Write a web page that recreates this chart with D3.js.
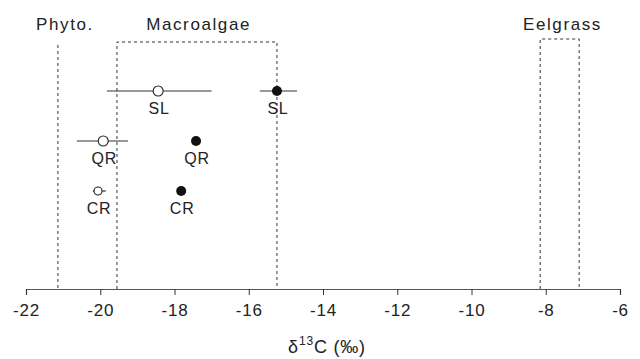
<!DOCTYPE html>
<html>
<head>
<meta charset="utf-8">
<script src="https://cdn.jsdelivr.net/npm/d3@7"></script>
<style>
  body { margin: 0; background: #fff; }
  text { font-family: "Liberation Sans", Arial, sans-serif; fill: #222; }
</style>
</head>
<body>
<div id="chart"></div>
<script>
// sites on the vertical (categorical) axis
const sites = ["SL", "QR", "CR"];

// open circles: mean and range of d13C
const openMean = [-18.44, -19.92, -20.06];
const openLow = [-19.82, -20.63, -20.2];
const openHigh = [-17.0, -19.25, -19.85];

// filled circles
const filledMean = [-15.24, -17.42, -17.82];
const filledLow = [-15.7, null, null];
const filledHigh = [-14.7, null, null];

// source ranges (dashed boxes)
const sourceNames = ["Phyto.", "Macroalgae", "Eelgrass"];
const sourceLow = [-21.14, -19.55, -8.15];
const sourceHigh = [null, -15.24, -7.1];
const sourceLabelX = [-20.95, -17.35, -7.55];

const xTicks = [-22, -20, -18, -16, -14, -12, -10, -8, -6];

const width = 640, height = 359;
const axisY = 289;

const svg = d3.select("#chart").append("svg")
  .attr("width", width)
  .attr("height", height);

const x = d3.scaleLinear().domain([-22, -6]).range([26, 620]);
const y = d3.scalePoint().domain(sites).range([91, 191]);

// axis
const axis = svg.append("g")
  .attr("transform", `translate(0,${axisY})`)
  .call(d3.axisBottom(x).tickValues(xTicks).tickSize(6).tickPadding(9)
    .tickFormat(d => d3.format("d")(d).replace("−", "-")));
axis.select(".domain").attr("stroke", "#555").attr("stroke-width", 1.2);
axis.selectAll(".tick line").attr("stroke", "#333");
axis.selectAll(".tick text").attr("font-size", 17)
  .attr("letter-spacing", 0.8)
  .attr("font-family", "Liberation Sans, Arial, sans-serif").attr("fill", "#222");

// source boxes
const dash = "3,3";
const boxTop = [45, 42, 39];
sourceNames.forEach((name, i) => {
  const g = svg.append("g").attr("fill", "none").attr("stroke", "#333")
    .attr("stroke-width", 1).attr("stroke-dasharray", dash);
  const x1 = x(sourceLow[i]);
  if (sourceHigh[i] === null) {
    g.append("line").attr("x1", x1).attr("x2", x1)
      .attr("y1", boxTop[i]).attr("y2", axisY);
  } else {
    const x2 = x(sourceHigh[i]);
    g.append("path")
      .attr("d", `M${x1},${axisY}V${boxTop[i]}H${x2}V${axisY}`);
  }
  svg.append("text")
    .attr("x", x(sourceLabelX[i]))
    .attr("y", 30)
    .attr("text-anchor", "middle")
    .attr("font-size", 17)
    .attr("letter-spacing", 1.6)
    .text(name);
});

// error bars
sites.forEach((s, i) => {
  svg.append("line")
    .attr("x1", x(openLow[i])).attr("x2", x(openHigh[i]))
    .attr("y1", y(s)).attr("y2", y(s))
    .attr("stroke", "#333").attr("stroke-width", 1.2);
  if (filledLow[i] !== null) {
    svg.append("line")
      .attr("x1", x(filledLow[i])).attr("x2", x(filledHigh[i]))
      .attr("y1", y(s)).attr("y2", y(s))
      .attr("stroke", "#333").attr("stroke-width", 1.2);
  }
});

// points
svg.selectAll("circle.open").data(sites).join("circle")
  .attr("class", "open")
  .attr("cx", (d, i) => x(openMean[i]))
  .attr("cy", d => y(d))
  .attr("r", (d, i) => i === 2 ? 4 : 5)
  .attr("fill", "#fff").attr("stroke", "#222").attr("stroke-width", 1.1);

svg.selectAll("circle.filled").data(sites).join("circle")
  .attr("class", "filled")
  .attr("cx", (d, i) => x(filledMean[i]))
  .attr("cy", d => y(d))
  .attr("r", 5)
  .attr("fill", "#111");

// site labels under the points
sites.forEach((s, i) => {
  [openMean[i], filledMean[i]].forEach(v => {
    svg.append("text")
      .attr("x", x(v) + 1)
      .attr("y", y(s) + 23)
      .attr("text-anchor", "middle")
      .attr("font-size", 16)
      .attr("letter-spacing", 0.8)
      .text(s);
  });
});

// axis title
const title = svg.append("text")
  .attr("x", 327)
  .attr("y", 353)
  .attr("text-anchor", "middle")
  .attr("font-size", 18)
  .attr("letter-spacing", 0.8);
title.append("tspan").text("δ");
title.append("tspan").attr("font-size", 12).attr("dy", -8).text("13");
title.append("tspan").attr("dy", 8).text("C (‰)");
</script>
</body>
</html>
